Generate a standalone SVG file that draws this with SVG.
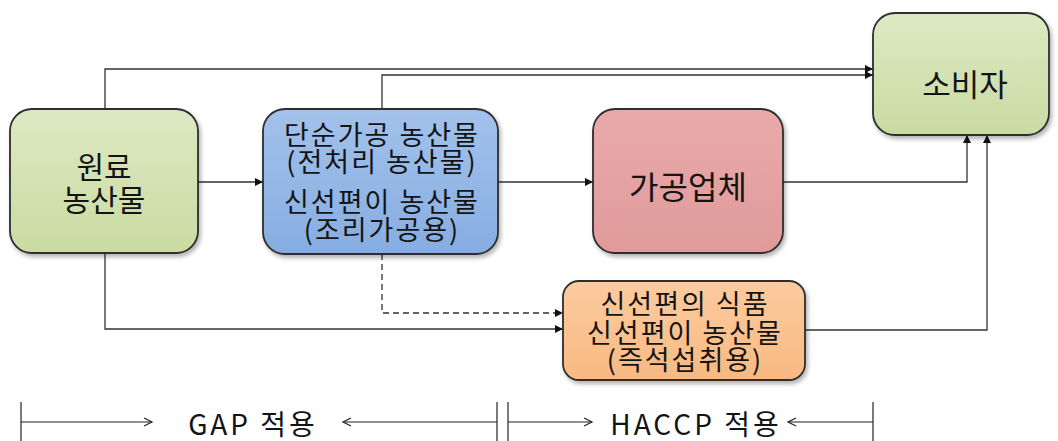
<svg xmlns="http://www.w3.org/2000/svg" width="1058" height="441" viewBox="0 0 1058 441">
<style>
.box{stroke:#2e2e2e;stroke-width:1.8;filter:url(#sh)}
.t{font-family:"Malgun Gothic","Noto Sans CJK KR","Noto Sans",sans-serif;fill:#141414;text-anchor:middle;dominant-baseline:central}
.m{font-size:27px;letter-spacing:2px}
.c{fill:none;stroke:#333;stroke-width:1.3}
.d{stroke-dasharray:6,4}
.b{fill:none;stroke:#222;stroke-width:1.2}
</style>
<defs>
<filter id="sh" x="-10%" y="-10%" width="125%" height="125%">
<feDropShadow dx="2" dy="3" stdDeviation="2" flood-color="#000" flood-opacity="0.3"/>
</filter>
<linearGradient id="gG" x1="0" y1="0" x2="0" y2="1"><stop offset="0" stop-color="#dde9c3"/><stop offset="1" stop-color="#c9dba2"/></linearGradient>
<linearGradient id="gB" x1="0" y1="0" x2="0" y2="1"><stop offset="0" stop-color="#a3c2ec"/><stop offset="1" stop-color="#86ade0"/></linearGradient>
<linearGradient id="gP" x1="0" y1="0" x2="0" y2="1"><stop offset="0" stop-color="#eaaaaa"/><stop offset="1" stop-color="#e09a9a"/></linearGradient>
<linearGradient id="gO" x1="0" y1="0" x2="0" y2="1"><stop offset="0" stop-color="#fccb9e"/><stop offset="1" stop-color="#f8b983"/></linearGradient>
<marker id="ar" viewBox="0 0 10 10" refX="10" refY="5" markerWidth="9" markerHeight="8" markerUnits="userSpaceOnUse" orient="auto">
<path d="M0,0 L10,5 L0,10 z" fill="#111"/>
</marker>
</defs>

<g id="connectors">
<path class="c" d="M105,109 V69 H873" marker-end="url(#ar)"/>
<path class="c" d="M382,109 V75 H873" marker-end="url(#ar)"/>
<path class="c" d="M198,182 H263" marker-end="url(#ar)"/>
<path class="c" d="M497,182 H593" marker-end="url(#ar)"/>
<path class="c" d="M783,182 H967 V135" marker-end="url(#ar)"/>
<path class="c" d="M105,253 V329 H563" marker-end="url(#ar)"/>
<path class="c d" d="M382,254 V313 H563" marker-end="url(#ar)"/>
<path class="c" d="M805,330 H987 V135" marker-end="url(#ar)"/>
</g>

<g id="node-raw">
<rect class="box" x="10" y="109" width="188" height="144" rx="22" fill="url(#gG)"/>
<text class="t" x="104" y="165" font-size="30">원료</text>
<text class="t" x="104" y="198" font-size="30">농산물</text>
</g>

<g id="node-simple">
<rect class="box" x="263" y="109" width="235" height="145" rx="22" fill="url(#gB)"/>
<text class="t m" x="382" y="133">단순가공 농산물</text>
<text class="t m" x="382" y="160">(전처리 농산물)</text>
<text class="t m" x="382" y="200">신선편이 농산물</text>
<text class="t m" x="382" y="228">(조리가공용)</text>
</g>

<g id="node-processor">
<rect class="box" x="593" y="109" width="190" height="144" rx="22" fill="url(#gP)"/>
<text class="t" x="688" y="185" font-size="32">가공업체</text>
</g>

<g id="node-consumer">
<rect class="box" x="873" y="13" width="176" height="122" rx="22" fill="url(#gG)"/>
<text class="t" x="965" y="82" font-size="31">소비자</text>
</g>

<g id="node-fresh">
<rect class="box" x="563" y="281" width="242" height="99" rx="16" fill="url(#gO)"/>
<text class="t m" x="685" y="302">신선편의 식품</text>
<text class="t m" x="685" y="331">신선편이 농산물</text>
<text class="t m" x="685" y="358">(즉석섭취용)</text>
</g>

<g id="scope">
<line class="b" x1="21" y1="402" x2="21" y2="441"/>
<line class="b" x1="21" y1="422" x2="152" y2="422"/>
<path class="b" d="M144,418 L152,422 L144,426"/>
<line class="b" x1="343" y1="422" x2="497" y2="422"/>
<path class="b" d="M351,418 L343,422 L351,426"/>
<line class="b" x1="497" y1="402" x2="497" y2="441"/>
<line class="b" x1="508" y1="402" x2="508" y2="441"/>
<line class="b" x1="508" y1="422" x2="592" y2="422"/>
<path class="b" d="M584,418 L592,422 L584,426"/>
<line class="b" x1="788" y1="422" x2="873" y2="422"/>
<path class="b" d="M796,418 L788,422 L796,426"/>
<line class="b" x1="873" y1="402" x2="873" y2="441"/>
<text class="t" x="253" y="423" font-size="28" letter-spacing="3">GAP 적용</text>
<text class="t" x="696" y="423" font-size="28" letter-spacing="3">HACCP 적용</text>
</g>
</svg>
